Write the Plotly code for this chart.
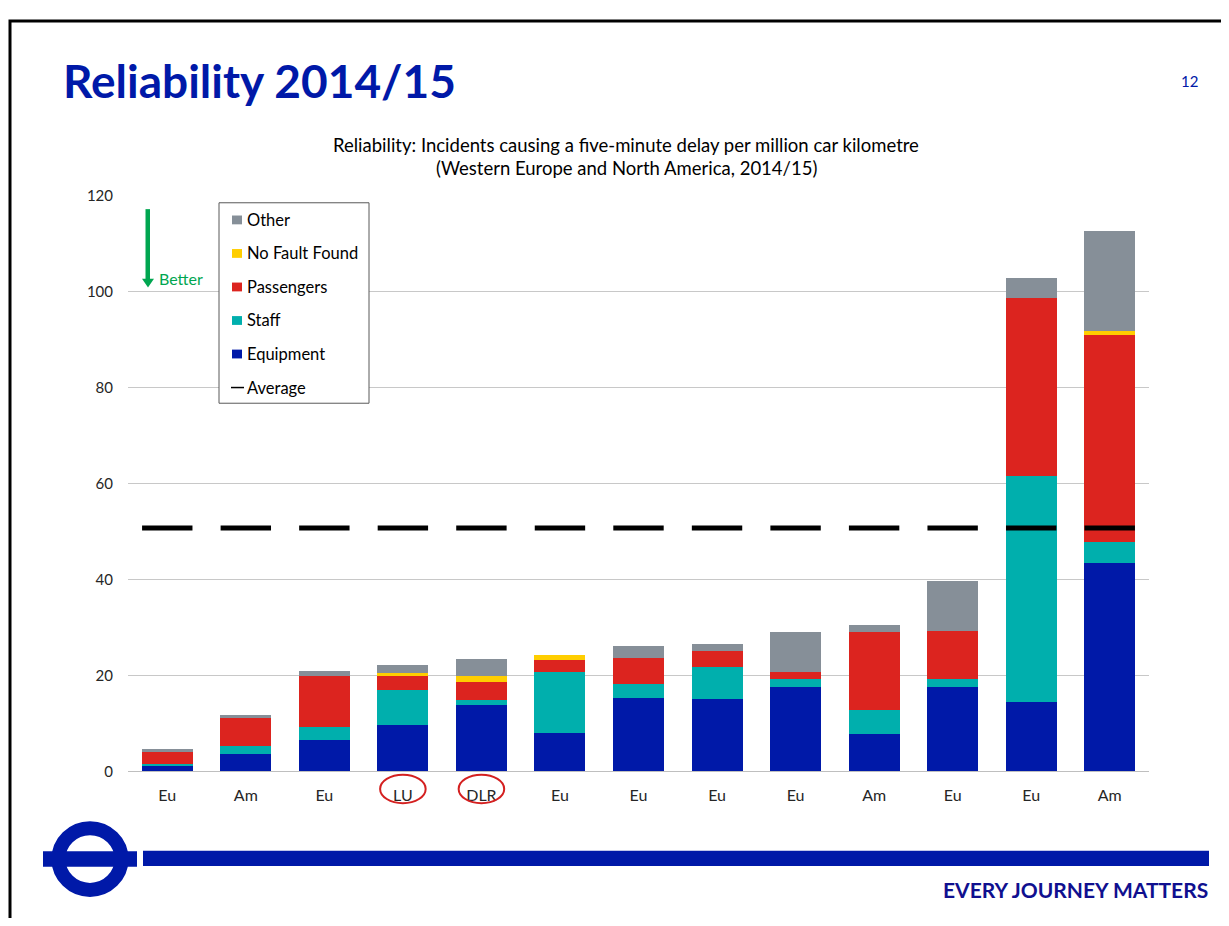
import plotly.graph_objects as go

# ---------------- data ----------------
labels = ["Eu", "Am", "Eu", "LU", "DLR", "Eu", "Eu", "Eu", "Eu", "Am", "Eu", "Eu", "Am"]
equipment = [1.2, 3.7, 6.6, 9.6, 13.8, 8.1, 15.3, 15.2, 17.5, 7.8, 17.7, 14.4, 43.4]
staff = [0.3, 1.6, 2.6, 7.3, 1.1, 12.6, 3.0, 6.6, 1.8, 5.1, 1.5, 47.2, 4.5]
passengers = [2.6, 5.9, 10.6, 3.0, 3.8, 2.6, 5.4, 3.4, 1.4, 16.2, 10.1, 37.1, 43.0]
no_fault_found = [0, 0, 0, 0.7, 1.2, 1.0, 0, 0, 0, 0, 0, 0, 0.8]
other = [0.5, 0.5, 1.1, 1.6, 3.6, 0, 2.5, 1.3, 8.4, 1.5, 10.3, 4.1, 20.8]
average_value = 50.7
average = [average_value] * len(labels)
y_ticks = [0, 20, 40, 60, 80, 100, 120]
legend_order = ["Other", "No Fault Found", "Passengers", "Staff", "Equipment", "Average"]

# ---------------- helpers ----------------
PAGE_W, PAGE_H = 1229, 926
OFF = 8  # default page body margin
W, H = PAGE_W - 2 * OFF, PAGE_H - 2 * OFF  # figure fits the window exactly
FONT = "Lato"
NAVY = "#0019A8"


def px(x):
    """page pixel x -> paper fraction"""
    return (x - OFF) / W


def py(y):
    """page pixel y -> paper fraction"""
    return 1 - (y - OFF) / H


positions = list(range(len(labels)))

series = [
    ("Equipment", equipment, "#0019A8"),
    ("Staff", staff, "#00AFAD"),
    ("Passengers", passengers, "#DC241F"),
    ("No Fault Found", no_fault_found, "#FFCE00"),
    ("Other", other, "#868F98"),
]
colors = {name: c for name, _, c in series}

fig = go.Figure()
for name, vals, color in series:
    fig.add_trace(go.Bar(
        x=positions, y=vals, name=name, marker=dict(color=color, line=dict(width=0)),
        showlegend=False,
    ))

fig.add_trace(go.Scatter(
    x=positions, y=average, name="Average", mode="markers",
    marker=dict(symbol="line-ew", size=36, color="black", line=dict(width=5, color="black")),
    showlegend=False,
))

fig.update_layout(
    width=W, height=H,
    margin=dict(l=0, r=0, t=0, b=0),
    paper_bgcolor="white", plot_bgcolor="white",
    barmode="stack", bargap=0.35,
    font=dict(family=FONT, size=14, color="#262626"),
    showlegend=False,
    xaxis=dict(
        domain=[px(128), px(1149)], range=[-0.5, len(labels) - 0.5],
        tickmode="array", tickvals=positions, ticktext=labels,
        showgrid=False, zeroline=False, showline=True, linecolor="#BFBFBF", linewidth=1,
        ticks="", ticklabelstandoff=9,
        tickfont=dict(family=FONT, size=16, color="#262626"),
    ),
    yaxis=dict(
        domain=[py(776.7), py(189)], range=[0, 120],
        tickmode="array", tickvals=y_ticks,
        showgrid=True, gridcolor="#C8C8C8", gridwidth=1, zeroline=False,
        showline=False, ticks="", ticklabelstandoff=14,
        tickfont=dict(family=FONT, size=15, color="#262626"),
    ),
)

annotations = [
    dict(text="<b>Reliability 2014/15</b>", x=px(61), y=py(72), xanchor="left", yanchor="middle",
         font=dict(family=FONT, size=46, color=NAVY)),
    dict(text="12", x=px(1189), y=py(72), xanchor="center", yanchor="middle",
         font=dict(family=FONT, size=15, color=NAVY)),
    dict(text="Reliability: Incidents causing a five-minute delay per million car kilometre",
         x=px(626), y=py(138), xanchor="center", yanchor="middle",
         font=dict(family=FONT, size=18.5, color="#000000")),
    dict(text="(Western Europe and North America, 2014/15)",
         x=px(626), y=py(161), xanchor="center", yanchor="middle",
         font=dict(family=FONT, size=18.5, color="#000000")),
    dict(text="Better", x=px(157), y=py(273.5), xanchor="left", yanchor="middle",
         font=dict(family=FONT, size=16, color="#00A650")),
    dict(text="<b>EVERY JOURNEY MATTERS</b>", x=px(1210), y=py(897), xanchor="right", yanchor="middle",
         font=dict(family=FONT, size=21, color="#10108F")),
]

shapes = []
# slide border (top and left visible)
shapes.append(dict(type="rect", xref="paper", yref="paper",
                   x0=px(10), x1=px(1260), y0=py(11), y1=py(960),
                   line=dict(color="black", width=3), fillcolor="rgba(0,0,0,0)"))
# Better arrow
shapes.append(dict(type="rect", xref="paper", yref="paper",
                   x0=px(145.5), x1=px(150), y0=py(203), y1=py(275),
                   line=dict(width=0), fillcolor="#00A650"))
shapes.append(dict(type="path", xref="paper", yref="paper",
                   path=f"M {px(142)} {py(274)} L {px(154)} {py(274)} L {px(148)} {py(283)} Z",
                   line=dict(width=0), fillcolor="#00A650"))
# circles round LU / DLR labels
for idx in (3, 4):
    shapes.append(dict(type="circle", xref="x", yref="paper",
                       x0=idx - 0.29, x1=idx + 0.29, y0=py(809), y1=py(780),
                       line=dict(color="#D42020", width=2)))

# manual legend box
shapes.append(dict(type="rect", xref="paper", yref="paper",
                   x0=px(219), x1=px(369), y0=py(401), y1=py(196.5),
                   line=dict(color="#595959", width=1), fillcolor="white"))
leg_y0, leg_step = 214, 34.2
for i, name in enumerate(legend_order):
    yc = leg_y0 + i * leg_step
    if name == "Average":
        shapes.append(dict(type="line", xref="paper", yref="paper",
                           x0=px(231), x1=px(244), y0=py(yc), y1=py(yc),
                           line=dict(color="black", width=1.5)))
    else:
        shapes.append(dict(type="rect", xref="paper", yref="paper",
                           x0=px(232), x1=px(242), y0=py(yc + 4.5), y1=py(yc - 4.5),
                           line=dict(width=0), fillcolor=colors[name]))
    annotations.append(dict(text=name, x=px(245), y=py(yc), xanchor="left", yanchor="middle",
                            font=dict(family=FONT, size=16.5, color="#000000")))

# roundel
cx, cy, r = 90, 866, 31.5
shapes.append(dict(type="circle", xref="paper", yref="paper",
                   x0=px(cx - r), x1=px(cx + r), y0=py(cy + r), y1=py(cy - r),
                   line=dict(color=NAVY, width=14)))
shapes.append(dict(type="rect", xref="paper", yref="paper",
                   x0=px(43), x1=px(137), y0=py(874), y1=py(858),
                   line=dict(width=0), fillcolor=NAVY))
shapes.append(dict(type="rect", xref="paper", yref="paper",
                   x0=px(143), x1=px(1209), y0=py(873), y1=py(857.5),
                   line=dict(width=0), fillcolor=NAVY))

for a in annotations:
    a.update(xref="paper", yref="paper", showarrow=False)
fig.update_layout(annotations=annotations, shapes=shapes)

fig.write_html("out.html")
